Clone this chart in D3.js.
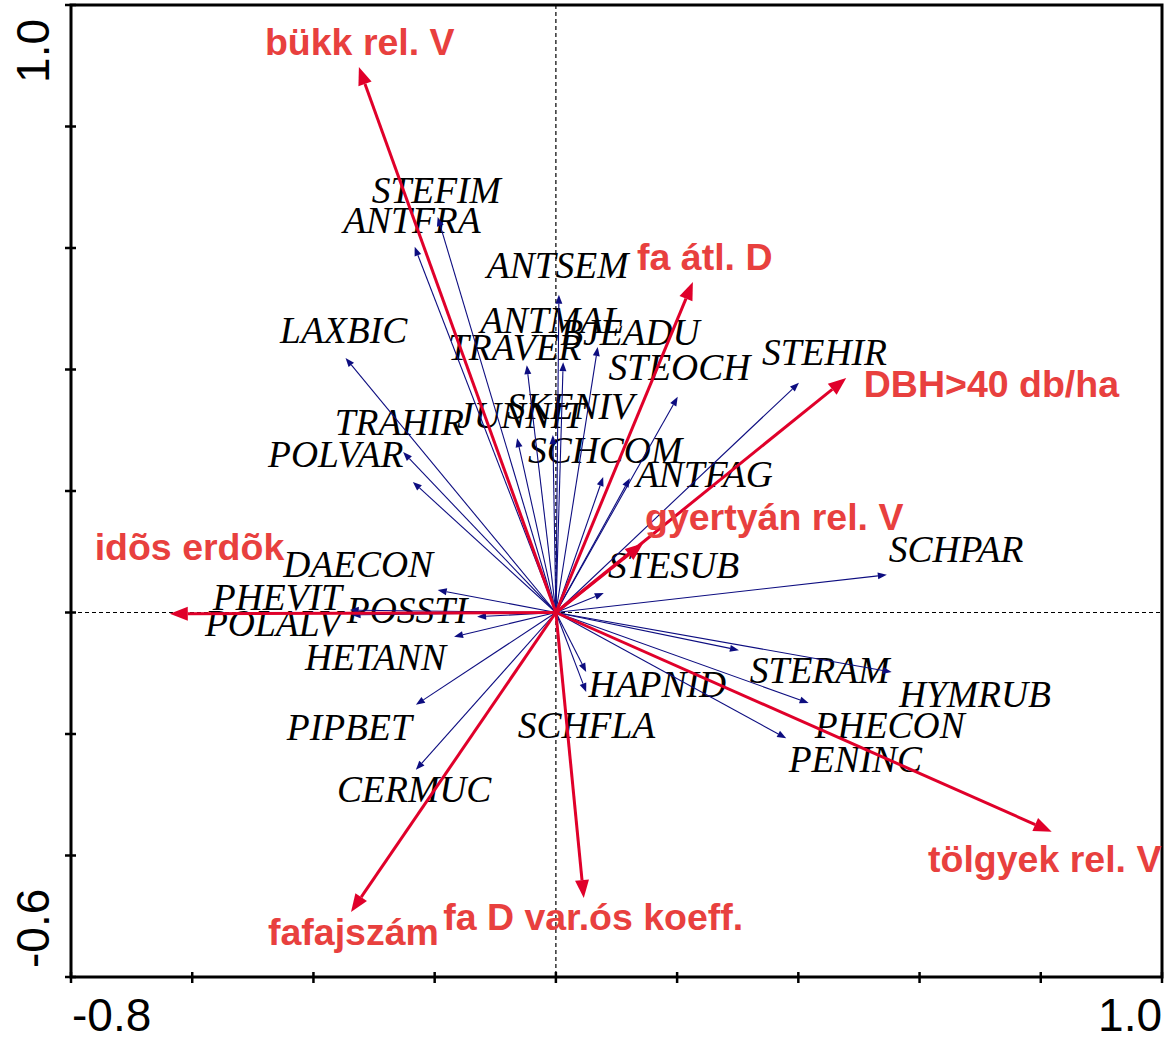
<!DOCTYPE html>
<html>
<head>
<meta charset="utf-8">
<script src="https://cdn.jsdelivr.net/npm/d3@7"></script>
<style>
    body { margin: 0; background: #fff; }
    svg { display: block; }
</style>
</head>
<body>
<div id="chart"></div>
<script>
// species scores (arrow tips) and where their labels sit, in ordination units
var speciesNames = ['STEFIM', 'ANTFRA', 'ANTSEM', 'ANTMAL', 'TRAVER', 'BJEADU', 'LAXBIC', 'STEOCH',
    'STEHIR', 'TRAHIR', 'JUNNIT', 'SKENIV', 'POLVAR', 'SCHCOM', 'ANTFAG', 'STESUB', 'SCHPAR',
    'DAECON', 'PHEVIT', 'POLALV', 'POSSTI', 'HETANN', 'PIPBET', 'CERMUC', 'HAPNID', 'SCHFLA',
    'STERAM', 'HYMRUB', 'PHECON', 'PENINC'];
var speciesX = [-0.195, -0.233, 0.005, 0.012, -0.048, 0.069, -0.347, 0.201,
    0.401, -0.236, -0.064, -0.005, -0.252, 0.078, 0.122, 0.079, 0.546,
    -0.195, -0.340, -0.337, -0.130, -0.168, -0.231, -0.231, 0.050, 0.050,
    0.302, 0.554, 0.417, 0.380];
var speciesY = [0.651, 0.602, 0.523, 0.412, 0.407, 0.437, 0.419, 0.355,
    0.378, 0.215, 0.287, 0.292, 0.264, 0.223, 0.221, 0.032, 0.062,
    0.037, 0.004, -0.004, -0.007, -0.040, -0.152, -0.259, -0.098, -0.131,
    -0.062, -0.098, -0.149, -0.207];
var speciesLabelX = [-0.304, -0.351, -0.114, -0.125, -0.178, 0.007, -0.455, 0.087,
    0.340, -0.365, -0.163, -0.081, -0.475, -0.046, 0.132, 0.086, 0.549,
    -0.450, -0.566, -0.579, -0.345, -0.414, -0.444, -0.361, 0.054, -0.063,
    0.320, 0.566, 0.427, 0.384];
var speciesLabelY = [0.674, 0.625, 0.551, 0.460, 0.416, 0.440, 0.444, 0.383,
    0.407, 0.292, 0.304, 0.319, 0.240, 0.246, 0.207, 0.057, 0.083,
    0.058, 0.004, -0.039, -0.017, -0.095, -0.210, -0.312, -0.139, -0.207,
    -0.116, -0.156, -0.207, -0.263];

// environmental variables
var envNames = ['bükk rel. V', 'fa átl. D', 'DBH>40 db/ha', 'gyertyán rel. V', 'idõs erdõk',
    'fafajszám', 'fa D var.ós koeff.', 'tölgyek rel. V'];
var envX = [-0.325, 0.226, 0.479, 0.144, -0.637, -0.338, 0.046, 0.818];
var envY = [0.898, 0.544, 0.386, 0.114, -0.002, -0.493, -0.470, -0.361];
var envLabelX = [-0.480, 0.134, 0.508, 0.147, -0.761, -0.475, -0.186, 0.614];
var envLabelY = [0.918, 0.564, 0.355, 0.136, 0.086, -0.547, -0.523, -0.427];

var xTicks = [-0.8, -0.6, -0.4, -0.2, 0, 0.2, 0.4, 0.6, 0.8, 1.0];
var yTicks = [-0.6, -0.4, -0.2, 0, 0.2, 0.4, 0.6, 0.8, 1.0];
var xTickLabels = ['-0.8', '1.0'];
var yTickLabels = ['-0.6', '1.0'];

var width = 1170, height = 1039;
var frame = { left: 71, right: 1162, top: 5, bottom: 977 };

var svg = d3.select('#chart').append('svg')
    .attr('width', width)
    .attr('height', height);

var x = d3.scaleLinear().domain([-0.8, 1.0]).range([frame.left, frame.right]);
var y = d3.scaleLinear().domain([-0.6, 1.0]).range([frame.bottom, frame.top]);

// zero lines
svg.append('line')
    .attr('x1', x(0)).attr('x2', x(0))
    .attr('y1', frame.top).attr('y2', frame.bottom)
    .style('stroke', '#000').style('stroke-width', 1.2).style('stroke-dasharray', '4,3');
svg.append('line')
    .attr('x1', frame.left).attr('x2', frame.right)
    .attr('y1', y(0)).attr('y2', y(0))
    .style('stroke', '#000').style('stroke-width', 1.2).style('stroke-dasharray', '4,3');

// frame
svg.append('rect')
    .attr('x', frame.left).attr('y', frame.top)
    .attr('width', frame.right - frame.left)
    .attr('height', frame.bottom - frame.top)
    .style('fill', 'none').style('stroke', '#000').style('stroke-width', 3);

// ticks
svg.append('g').selectAll('line').data(xTicks).enter().append('line')
    .attr('x1', function (d) { return x(d); })
    .attr('x2', function (d) { return x(d); })
    .attr('y1', frame.bottom - 5).attr('y2', frame.bottom + 6)
    .style('stroke', '#000').style('stroke-width', 2.5);
svg.append('g').selectAll('line').data(yTicks).enter().append('line')
    .attr('y1', function (d) { return y(d); })
    .attr('y2', function (d) { return y(d); })
    .attr('x1', frame.left - 6).attr('x2', frame.left + 5)
    .style('stroke', '#000').style('stroke-width', 2.5);

var tickFont = 'Liberation Sans, Arial, sans-serif';
svg.append('text')
    .attr('x', x(-0.8) + 1).attr('y', 1031)
    .style('font-family', tickFont).style('font-size', '46px')
    .text(xTickLabels[0]);
svg.append('text')
    .attr('x', x(1.0)).attr('y', 1031)
    .style('text-anchor', 'end')
    .style('font-family', tickFont).style('font-size', '46px')
    .text(xTickLabels[1]);
svg.append('text')
    .attr('transform', 'translate(49,' + (frame.bottom - 9) + ') rotate(-90)')
    .style('font-family', tickFont).style('font-size', '46px')
    .text(yTickLabels[0]);
svg.append('text')
    .attr('transform', 'translate(49,' + (frame.top + 14) + ') rotate(-90)')
    .style('text-anchor', 'end')
    .style('font-family', tickFont).style('font-size', '46px')
    .text(yTickLabels[1]);

function arrowHead (x0, y0, x1, y1, len, half) {
    var dx = x1 - x0, dy = y1 - y0;
    var d = Math.sqrt(dx * dx + dy * dy);
    var ux = dx / d, uy = dy / d;
    var bx = x1 - ux * len, by = y1 - uy * len;
    return [[x1, y1], [bx - uy * half, by + ux * half], [bx + uy * half, by - ux * half]];
}

// species labels first, arrows are painted over them
svg.append('g').selectAll('text').data(speciesNames).enter().append('text')
    .attr('x', function (d, i) { return x(speciesLabelX[i]); })
    .attr('y', function (d, i) { return y(speciesLabelY[i]); })
    .style('font-family', 'Liberation Serif, Times New Roman, serif')
    .style('font-style', 'italic')
    .style('font-size', '37.5px')
    .style('fill', '#000')
    .text(function (d) { return d; });

var blue = '#0d0d80';
var spG = svg.append('g');
speciesNames.forEach(function (name, i) {
    var tx = x(speciesX[i]), ty = y(speciesY[i]);
    var head = arrowHead(x(0), y(0), tx, ty, 9, 3.5);
    var bx = (head[1][0] + head[2][0]) / 2, by = (head[1][1] + head[2][1]) / 2;
    spG.append('line')
        .attr('x1', x(0)).attr('y1', y(0)).attr('x2', bx).attr('y2', by)
        .style('stroke', blue).style('stroke-width', 1.1);
    spG.append('polygon')
        .attr('points', head.map(function (p) { return p.join(','); }).join(' '))
        .style('fill', blue);
});

var red = '#e0002a';
var envG = svg.append('g');
envNames.forEach(function (name, i) {
    var tx = x(envX[i]), ty = y(envY[i]);
    var head = arrowHead(x(0), y(0), tx, ty, 18, 7);
    var bx = (head[1][0] + head[2][0]) / 2, by = (head[1][1] + head[2][1]) / 2;
    envG.append('line')
        .attr('x1', x(0)).attr('y1', y(0)).attr('x2', bx).attr('y2', by)
        .style('stroke', red).style('stroke-width', 3);
    envG.append('polygon')
        .attr('points', head.map(function (p) { return p.join(','); }).join(' '))
        .style('fill', red);
});

svg.append('g').selectAll('text').data(envNames).enter().append('text')
    .attr('x', function (d, i) { return x(envLabelX[i]); })
    .attr('y', function (d, i) { return y(envLabelY[i]); })
    .style('font-family', 'Liberation Sans, Arial, sans-serif')
    .style('font-weight', 'bold')
    .style('font-size', '37.5px')
    .style('fill', '#e8403e')
    .text(function (d) { return d; });
</script>
</body>
</html>
